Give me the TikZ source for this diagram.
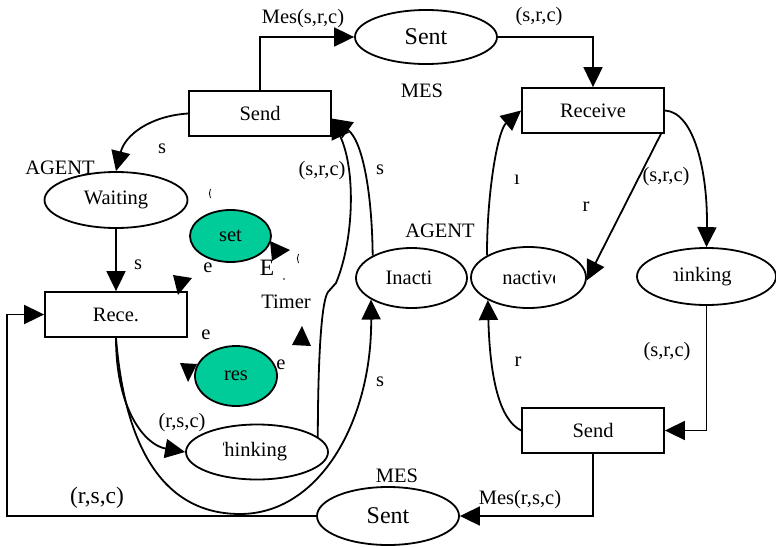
\documentclass[tikz,border=0pt]{standalone}
\usepackage{fontspec}
\setmainfont{Liberation Serif}
\usetikzlibrary{shapes.geometric,arrows.meta}
\definecolor{tealfill}{RGB}{0,204,153}
\begin{document}
\begin{tikzpicture}[x=1pt,y=-1pt,line width=1.8pt,
  box/.style={draw,rectangle,minimum width=142pt,minimum height=45pt,inner sep=0pt,font=\fontsize{20.5}{24}\selectfont},
  oval/.style={draw,ellipse,inner sep=0pt,font=\fontsize{20.5}{24}\selectfont},
  bigoval/.style={oval,font=\fontsize{24}{28}\selectfont},
  greenoval/.style={oval,fill=tealfill},
  lbl/.style={inner sep=0pt,font=\fontsize{20.5}{24}\selectfont},
  biglbl/.style={inner sep=0pt,font=\fontsize{23.5}{27}\selectfont},
  arr/.style={-{Triangle[length=20pt,width=19pt]}},
  tipfill/.style={fill=black,draw=none}]
\useasboundingbox (0,0) rectangle (776,546);

% nodes
\node[bigoval,minimum width=142pt,minimum height=54pt] (sentT) at (426,37) {Sent};
\node[box] (recvR) at (593,110.5) {Receive};
\node[box] (sendL) at (260,113.5) {Send};
\node[oval,minimum width=143pt,minimum height=56pt] (waiting) at (116,200) {Waiting};
\node[box] (rece) at (116,314.5) {Rece.};
\node[greenoval,minimum width=81pt,minimum height=52pt] (set) at (230.5,236) {set};
\node[greenoval,minimum width=82pt,minimum height=60pt] (res) at (236,376) {res};
\node[oval,minimum width=142pt,minimum height=55pt] (thinkL) at (257,452) {};
\node[oval,minimum width=111pt,minimum height=60pt] (inacti) at (411.5,278) {};
\node[lbl] (inactitxt) at (409,278) {Inacti};
\node[oval,minimum width=115pt,minimum height=61pt] (inactR) at (528.5,277.5) {};
\node[oval,minimum width=139pt,minimum height=57pt] (thinkR) at (706.5,276.5) {};
\node[box] (sendB) at (593,430.5) {Send};
\node[bigoval,minimum width=142pt,minimum height=58pt] (sentB) at (388,516) {Sent};

% clipped texts
\begin{scope}
  \clip (223.5,430) rectangle (300,475);
  \node[lbl] (thinkLtxt) at (249.5,452) {Thinking};
\end{scope}
\begin{scope}
  \clip (503,260) rectangle (554.5,295);
  \node[lbl] (inactRtxt) at (528.5,278) {Inactive};
\end{scope}
\begin{scope}
  \clip (673,255) rectangle (745,300);
  \node[lbl] (thinkRtxt) at (694,277) {Thinking};
\end{scope}

% connectors
\draw[arr] (sendL.north) |- (sentT.west);
\draw[arr] (sentT.east) -| (recvR.north);
\draw[arr] (sendL.west) .. controls (150,116) and (125,135) .. (waiting.north);
\draw[arr] (waiting.south) -- (rece.north);
\draw[arr] (sentB.west) -- (7,516) |- (rece.west);
\draw[arr] (rece.south) .. controls (116,410) and (145,445) .. (thinkL.west);
\draw[arr] (rece.south) .. controls (125,450) and (165,514) .. (240,514)
   .. controls (320,514) and (372,420) .. (inacti.208);
\draw[arr] (thinkL.14) .. controls (318,350) and (322,300) .. (328,292) -- (336,283)
   .. controls (354,240) and (356,170) .. (sendL.-4);
\draw[arr] (inacti.150) .. controls (372,190) and (362,140) .. (sendL.-4);
\draw[arr] (recvR.-19) -- (inactR.-3);
\draw[arr] (recvR.east) .. controls (695,112) and (708,175) .. (thinkR.north);
\draw[arr] (inactR.152) .. controls (487,190) and (498,130) .. (recvR.west);
\draw[arr] (thinkR.south) |- (sendB.east);
\draw[arr] (sendB.west) .. controls (500,420) and (490,380) .. (inactR.209);
\draw[arr] (sendB.south) |- (sentB.east);

% orphan arrow heads
\path[tipfill] (173,275) -- (192,278) -- (178,295) -- cycle;
\path[tipfill] (270,241) -- (290,250) -- (272,261) -- cycle;
\path[tipfill] (302,326) -- (292,345) -- (311,346) -- cycle;
\path[tipfill] (180,363) -- (197,364) -- (188,382) -- cycle;

% small fragments
\draw[line width=0.8pt] (210.5,189) to[bend right=25] (210.5,198);
\draw[line width=0.8pt] (298.5,254) to[bend right=25] (298.5,263);
\fill (284,279) circle (0.9);

% labels
\node[lbl] (l1) at (303,19) {Mes(s,r,c)};
\node[lbl] (l2) at (539,17) {(s,r,c)};
\node[lbl] (l3) at (422,91) {MES};
\node[lbl] (l4) at (162,149) {s};
\node[lbl] (l5) at (60,168) {AGENT};
\node[lbl] (l6) at (138,265) {s};
\node[lbl] (l7) at (322,171) {(s,r,c)};
\node[lbl] (l8) at (380,170) {s};
\node[lbl] (l9) at (208,268) {e};
\node[biglbl] (l10) at (267,268) {E};
\node[lbl] (l11) at (286,302) {Timer};
\node[lbl] (l12) at (206,335) {e};
\node[lbl] (l13) at (281,365) {e};
\node[lbl] (l14) at (182,423) {(r,s,c)};
\node[lbl] (l15) at (380,382) {s};
\node[biglbl] (l16) at (97,498) {(r,s,c)};
\node[lbl] (l17) at (397,476) {MES};
\node[lbl] (l18) at (520,500) {Mes(r,s,c)};
\node[lbl] (l19) at (440,231) {AGENT};
\node[lbl] (l20) at (517,180) {ı};
\node[lbl] (l21) at (586,207) {r};
\node[lbl] (l22) at (666,177) {(s,r,c)};
\node[lbl] (l23) at (667,352) {(s,r,c)};
\node[lbl] (l24) at (518,362) {r};
\end{tikzpicture}
\end{document}
